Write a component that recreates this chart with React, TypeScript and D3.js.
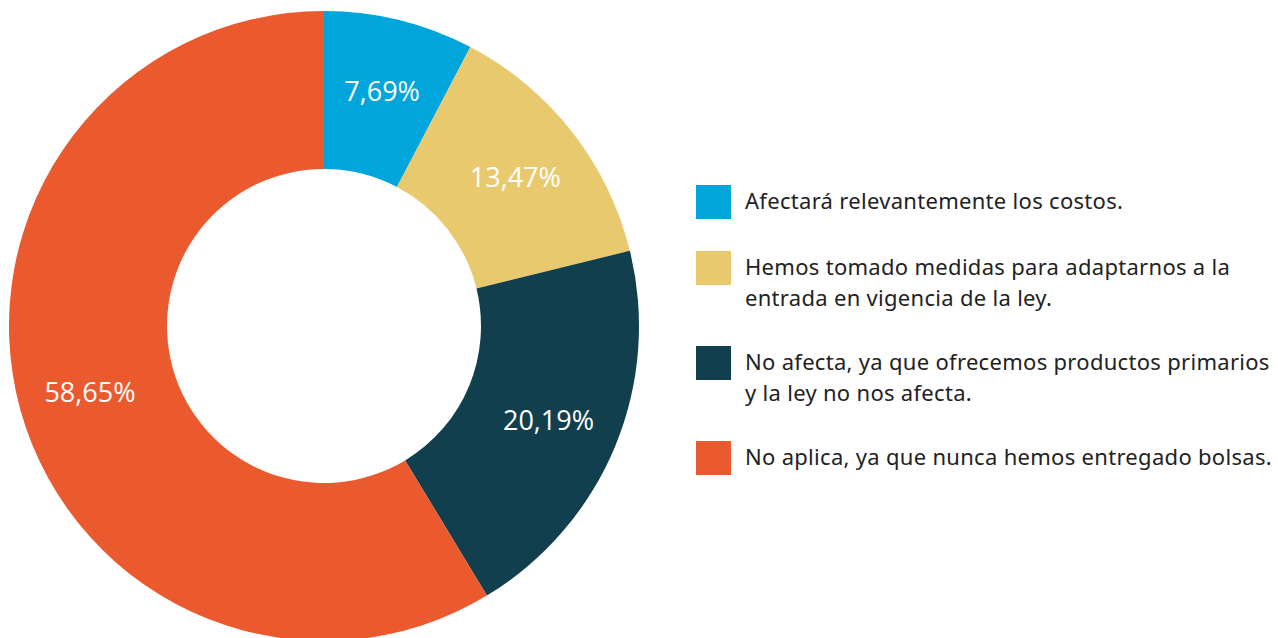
import React from "react";
import * as d3 from "d3";

const categories = [
  "Afectará relevantemente los costos.",
  "Hemos tomado medidas para adaptarnos a la entrada en vigencia de la ley.",
  "No afecta, ya que ofrecemos productos primarios y la ley no nos afecta.",
  "No aplica, ya que nunca hemos entregado bolsas.",
];
const legendLines = [
  ["Afectará relevantemente los costos."],
  ["Hemos tomado medidas para adaptarnos a la", "entrada en vigencia de la ley."],
  ["No afecta, ya que ofrecemos productos primarios", "y la ley no nos afecta."],
  ["No aplica, ya que nunca hemos entregado bolsas."],
];
const values = [7.69, 13.47, 20.19, 58.65];
const labels = ["7,69%", "13,47%", "20,19%", "58,65%"];
const colors = ["#00A5DC", "#E8C96E", "#123F4E", "#EB5A2E"];

export default function App() {
  const W = 1278, H = 638;
  const cx = 324, cy = 326, R = 315, r = 157;
  const pie = d3.pie<number>().sort(null).value((d) => d);
  const arcs = pie(values);
  const arc = d3.arc<d3.PieArcDatum<number>>().innerRadius(r).outerRadius(R);
  const labelArc = d3.arc<d3.PieArcDatum<number>>().innerRadius(243).outerRadius(243);
  const legendTops = [185, 251, 346, 441];
  return (
    <svg width={W} height={H} style={{ position: "absolute", left: 0, top: 0 }}>
      <rect width={W} height={H} fill="#fff" />
      <g transform={`translate(${cx},${cy})`}>
        {arcs.map((a, i) => (
          <path key={i} d={arc(a) || ""} fill={colors[i]} />
        ))}
        {arcs.map((a, i) => {
          const [x, y] = labelArc.centroid(a);
          return (
            <text key={"l" + i} x={x} y={y} fill="#fff" fontFamily="'Open Sans'" fontSize={27}
              textAnchor="middle" dominantBaseline="central">{labels[i]}</text>
          );
        })}
      </g>
      {categories.map((c, i) => (
        <g key={c} transform={`translate(696,${legendTops[i]})`}>
          <rect width={35} height={34} fill={colors[i]} />
          {legendLines[i].map((ln, j) => (
            <text key={j} x={49} y={24 + j * 31} fontFamily="'Noto Sans'" fontSize={22}
              letterSpacing={0.3} fill="#222">{ln}</text>
          ))}
        </g>
      ))}
    </svg>
  );
}
